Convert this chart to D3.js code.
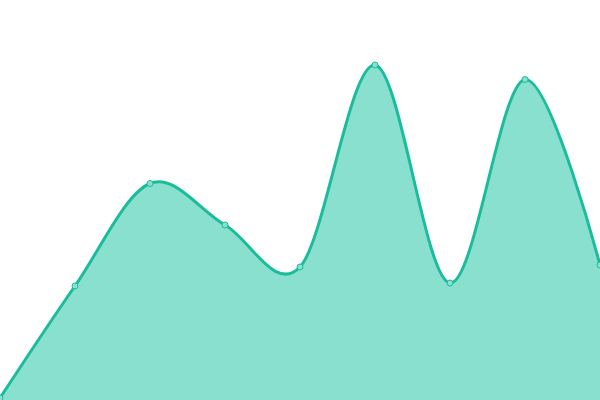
<!DOCTYPE html>
<html>
<head>
<meta charset="utf-8">
<script src="https://cdn.jsdelivr.net/npm/d3@7"></script>
<style>
  html, body { margin: 0; padding: 0; background: #fff; overflow: hidden; }
  svg { display: block; }
</style>
</head>
<body>
<svg id="chart"></svg>
<script>
// values (0 = bottom edge, 400 = top edge)
var labels = ['1', '2', '3', '4', '5', '6', '7', '8', '9'];
var values = [2, 114, 216.5, 175, 133, 335, 117, 320.5, 135];

var width = 600;
var height = 400;

var data = labels.map(function (l, i) { return { label: l, value: values[i] }; });

var x = d3.scalePoint().domain(labels).range([0, width]);
var y = d3.scaleLinear().domain([0, 400]).range([height, 0]);

var curve = d3.curveCardinal;

var area = d3.area()
    .x(function (d) { return x(d.label); })
    .y0(height)
    .y1(function (d) { return y(d.value); })
    .curve(curve);

var line = d3.line()
    .x(function (d) { return x(d.label); })
    .y(function (d) { return y(d.value); })
    .curve(curve);

var svg = d3.select('#chart')
    .attr('width', width)
    .attr('height', height);

svg.append('path')
    .datum(data)
    .attr('fill', '#8ae0cf')
    .attr('d', area);

svg.append('path')
    .datum(data)
    .attr('fill', 'none')
    .attr('stroke', '#1abc9c')
    .attr('stroke-width', 3)
    .attr('d', line);

svg.selectAll('circle')
    .data(data)
    .enter()
    .append('circle')
    .attr('cx', function (d) { return x(d.label); })
    .attr('cy', function (d) { return y(d.value); })
    .attr('r', 3)
    .attr('fill', '#8ae0cf')
    .attr('stroke', '#1abc9c')
    .attr('stroke-width', 1);
</script>
</body>
</html>
